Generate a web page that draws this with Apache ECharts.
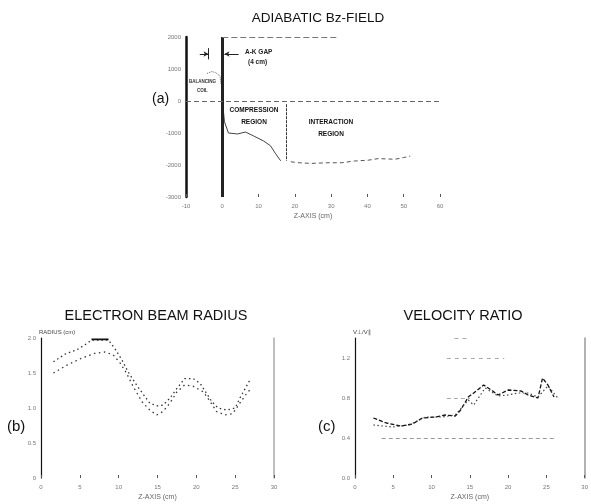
<!DOCTYPE html>
<html><head><meta charset="utf-8">
<script src="https://cdn.jsdelivr.net/npm/echarts@6/dist/echarts.min.js"></script>
<style>html,body{margin:0;padding:0;background:#fff}#c{width:591px;height:504px}</style>
</head><body><div id="c"></div>
<script>
// ---- Panel (a): adiabatic Bz field (G) vs z (cm)
var bzCoil = [[-4.2,860],[-3.8,890],[-2.9,920],[-1.9,890],[-0.6,780],[-0.4,530]];
var bzCompression = [[0.3,-300],[0.6,-650],[1.7,-1000],[4.2,-1030],[6.4,-970],[8.6,-1090],[11.4,-1250],[13.3,-1400],[14.7,-1650],[16.1,-1870]];
var bzInteraction = [[18.9,-1900],[21.2,-1930],[24.4,-1950],[29.1,-1930],[32.8,-1930],[36.5,-1875],[40.2,-1850],[43.0,-1800],[47.6,-1820],[49.9,-1770],[51.8,-1720]];
var aXTicks = [-10, 60, 10];
var aYTicks = [-3000, 2000, 1000];

// ---- Panel (b): electron beam radius (cm) vs z (cm)
var radiusUpper = [[1.6,1.66],[3.1,1.77],[4.6,1.83],[5.9,1.92],[6.5,1.97],[8.7,1.97],[9.5,1.85],[10.4,1.69],[11.2,1.52],[12.3,1.33],[13.2,1.19],[14.0,1.07],[14.9,1.03],[15.7,1.04],[16.6,1.14],[17.5,1.28],[18.5,1.42],[19.6,1.42],[20.5,1.35],[21.3,1.21],[22.0,1.09],[22.8,1.00],[23.9,0.97],[25.0,1.00],[25.6,1.14],[26.3,1.28],[26.9,1.40]];
var radiusLower = [[1.6,1.50],[3.3,1.61],[5.2,1.71],[6.9,1.78],[8.2,1.80],[9.3,1.76],[10.2,1.64],[11.0,1.50],[11.9,1.30],[13.0,1.09],[14.0,0.97],[14.9,0.90],[15.7,0.95],[16.6,1.07],[17.5,1.23],[18.5,1.33],[19.6,1.31],[20.9,1.23],[21.8,1.09],[22.6,0.95],[23.7,0.90],[24.7,0.92],[25.6,1.07],[26.5,1.21],[26.9,1.26]];
var radiusPeak = [[6.5,1.98],[8.7,1.98]];
var bXTicks = [0, 30, 5];
var bYTicks = [0, 2.0, 0.5];

// ---- Panel (c): velocity ratio vs z (cm)
var ratioA = [[2.4,0.60],[4.1,0.55],[6.0,0.52],[7.5,0.54],[8.8,0.60],[10.5,0.61],[11.8,0.63],[13.1,0.62],[13.8,0.68],[14.8,0.81],[15.5,0.85],[16.8,0.93],[17.8,0.88],[18.7,0.83],[20.0,0.88],[21.7,0.87],[22.6,0.83],[23.9,0.80],[24.5,1.00],[25.2,0.93],[26.0,0.81]];
var ratioB = [[2.4,0.53],[4.9,0.51],[7.1,0.53],[9.2,0.61],[11.4,0.61],[13.1,0.63],[14.8,0.78],[15.5,0.73],[17.0,0.90],[18.7,0.82],[20.0,0.83],[21.3,0.85],[22.6,0.85],[23.9,0.81],[25.2,0.92],[26.5,0.80]];
var cXTicks = [0, 30, 5];
var cYTicks = [0, 1.4, 0.4];

var chart = echarts.init(document.getElementById('c'));
var tickLbl = {fontSize:6, color:'#777', fontFamily:'Liberation Sans'};
function xAx(grid, t, fmt){
  return {type:'value', gridIndex:grid, min:t[0], max:t[1], interval:t[2],
    axisLine:{show:false, onZero:false}, splitLine:{show:false},
    axisTick:{show:true, inside:true, length:3, lineStyle:{color:'#555'}},
    axisLabel:Object.assign({margin:6, formatter:fmt}, tickLbl),
    name:'Z-AXIS (cm)', nameLocation:'middle', nameGap:16,
    nameTextStyle:{fontSize:7, color:'#666', fontFamily:'Liberation Sans'}};
}
function yAx(grid, t, lw, fmt, name){
  return {type:'value', gridIndex:grid, min:t[0], max:t[1], interval:t[2],
    axisLine:{show:true, onZero:false, lineStyle:{color:'#111', width:lw}},
    splitLine:{show:false}, axisTick:{show:false},
    axisLabel:Object.assign({margin:5, formatter:fmt, showMaxLabel:t[1]%t[2]===0}, tickLbl),
    name:name||'', nameLocation:'end', nameGap:3,
    nameTextStyle:{fontSize:6, color:'#444', align:'left', padding:[0,0,0,-2], fontFamily:'Liberation Sans'}};
}
function rightAx(grid, t, color){
  return {type:'value', gridIndex:grid, min:t[0], max:t[1], position:'right',
    axisLine:{show:true, onZero:false, lineStyle:{color:color, width:1.5}}, axisTick:{show:false},
    axisLabel:{show:false}, splitLine:{show:false}};
}
var titleStyle = {fontFamily:'Liberation Sans', fontWeight:'normal', color:'#111'};
var boldTxt = {fontWeight:'bold', fill:'#111', fontFamily:'Liberation Sans', align:'center'};
var option = {
  animation:false,
  backgroundColor:'#fff',
  title:[
    {text:'ADIABATIC Bz-FIELD', left:313, top:6, textAlign:'center', textStyle:Object.assign({fontSize:13.5}, titleStyle)},
    {text:'ELECTRON BEAM RADIUS', left:151, top:303, textAlign:'center', textStyle:Object.assign({fontSize:14.5}, titleStyle)},
    {text:'VELOCITY RATIO', left:458, top:303, textAlign:'center', textStyle:Object.assign({fontSize:14.5}, titleStyle)}
  ],
  grid:[
    {left:186, right:151, top:37, bottom:307},
    {left:41, right:317, top:338, bottom:26},
    {left:355, right:4, top:338, bottom:26}
  ],
  xAxis:[
    xAx(0, aXTicks),
    xAx(1, bXTicks),
    xAx(2, cXTicks)
  ],
  yAxis:[
    yAx(0, aYTicks, 2.5, function(v){return String(v);}),
    yAx(1, bYTicks, 1.2, function(v){return v===0?'0':v.toFixed(1);}, 'RADIUS (cm)'),
    yAx(2, cYTicks, 1.2, function(v){return v.toFixed(1);}, 'V\u22A5/V\u2225'),
    rightAx(1, bYTicks, '#aaa'),
    rightAx(2, cYTicks, '#999')
  ],
  series:[
    {type:'line', xAxisIndex:0, yAxisIndex:0, data:bzCoil, symbol:'none', lineStyle:{color:'#666', width:1, type:'dotted'},
      markLine:{silent:true, symbol:'none', label:{show:false},
        data:[
          {xAxis:0, lineStyle:{color:'#222', width:3, type:'solid'}},
          {yAxis:0, lineStyle:{color:'#666', width:1, type:[5,3]}},
          [{coord:[0,2000], lineStyle:{color:'#777', width:1, type:[6,3]}},{coord:[32,2000]}],
          [{coord:[17.5,-100], lineStyle:{color:'#333', width:1, type:[3,1]}},{coord:[17.5,-1870]}]
        ]}},
    {type:'line', xAxisIndex:0, yAxisIndex:0, data:bzCompression, symbol:'none', lineStyle:{color:'#444', width:1}},
    {type:'line', xAxisIndex:0, yAxisIndex:0, data:bzInteraction, symbol:'none', lineStyle:{color:'#555', width:1, type:[4,3]},
      markLine:{silent:true, symbol:['none','arrow'], symbolSize:[4,5], label:{show:false},
        data:[
          [{coord:[-6.2,1470], lineStyle:{color:'#222', width:1, type:'solid'}},{coord:[-3.8,1470]}],
          [{coord:[4.5,1470], lineStyle:{color:'#222', width:1, type:'solid'}},{coord:[0.6,1470]}]
        ]}},
    {type:'line', xAxisIndex:0, yAxisIndex:0, data:[[-3.8,1300],[-3.8,1650]], symbol:'none', lineStyle:{color:'#222', width:1}},
    {type:'line', xAxisIndex:1, yAxisIndex:1, data:radiusUpper, symbol:'none', lineStyle:{color:'#333', width:1.3, type:[1.5,3]}},
    {type:'line', xAxisIndex:1, yAxisIndex:1, data:radiusLower, symbol:'none', lineStyle:{color:'#333', width:1.3, type:[1.5,3.5]}},
    {type:'line', xAxisIndex:1, yAxisIndex:1, data:radiusPeak, symbol:'none', lineStyle:{color:'#111', width:1.6}},
    {type:'line', xAxisIndex:2, yAxisIndex:2, data:ratioA, symbol:'none', lineStyle:{color:'#111', width:1.3, type:[4,2]},
      markLine:{silent:true, symbol:'none', label:{show:false},
        data:[
          [{coord:[3.5,0.4], lineStyle:{color:'#999', width:1, type:[4,3]}},{coord:[26,0.4]}],
          [{coord:[12,0.8], lineStyle:{color:'#aaa', width:1, type:[4,3]}},{coord:[15,0.8]}],
          [{coord:[12,1.2], lineStyle:{color:'#aaa', width:1, type:[4,4]}},{coord:[19.5,1.2]}],
          [{coord:[13,1.4], lineStyle:{color:'#aaa', width:1, type:[4,4]}},{coord:[15,1.4]}]
        ]}},
    {type:'line', xAxisIndex:2, yAxisIndex:2, data:ratioB, symbol:'none', lineStyle:{color:'#444', width:1.2, type:[1.5,2.5]}}
  ],
  graphic:[
    {type:'text', left:152, top:92, style:{text:'(a)', fontSize:14, fill:'#111', fontFamily:'Liberation Sans'}},
    {type:'text', left:7, top:419, style:{text:'(b)', fontSize:15, fill:'#111', fontFamily:'Liberation Sans'}},
    {type:'text', left:318, top:419, style:{text:'(c)', fontSize:15, fill:'#111', fontFamily:'Liberation Sans'}},
    {type:'text', left:245, top:49, style:{text:'A-K GAP', fontSize:6.5, fontWeight:'bold', fill:'#222', fontFamily:'Liberation Sans'}},
    {type:'text', left:248, top:59, style:{text:'(4 cm)', fontSize:6.5, fontWeight:'bold', fill:'#222', fontFamily:'Liberation Sans'}},
    {type:'text', left:189, top:79, style:{text:'BALANCING', fontSize:4.5, fontWeight:'bold', fill:'#333', fontFamily:'Liberation Sans'}},
    {type:'text', left:197, top:88, style:{text:'COIL', fontSize:4.5, fontWeight:'bold', fill:'#333', fontFamily:'Liberation Sans'}},
    {type:'text', x:254, y:107, style:Object.assign({text:'COMPRESSION', fontSize:6.5}, boldTxt)},
    {type:'text', x:254, y:119, style:Object.assign({text:'REGION', fontSize:6.5}, boldTxt)},
    {type:'text', x:331, y:119, style:Object.assign({text:'INTERACTION', fontSize:6.5}, boldTxt)},
    {type:'text', x:331, y:131, style:Object.assign({text:'REGION', fontSize:6.5}, boldTxt)}
  ]
};
chart.setOption(option);
</script></body></html>
